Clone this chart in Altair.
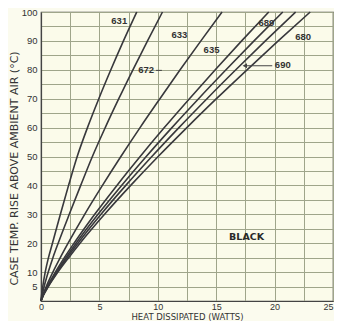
import altair as alt
import pandas as pd

levels = [0, 2, 5, 10, 15, 20, 30, 40, 50, 60, 70, 80, 90, 100]
w631 = [0, 0.05, 0.15, 0.36, 0.64, 0.98, 1.66, 2.36, 3.10, 3.98, 4.95, 5.98, 7.06, 8.2]
w633 = [0, 0.09, 0.27, 0.62, 1.02, 1.47, 2.42, 3.40, 4.40, 5.50, 6.66, 7.87, 9.12, 10.4]
w635 = [0, 0.15, 0.45, 1.02, 1.65, 2.32, 3.74, 5.26, 6.84, 8.48, 10.18, 11.91, 13.69, 15.5]
w672 = [0, 0.18, 0.54, 1.23, 2.00, 2.83, 4.60, 6.50, 8.49, 10.56, 12.71, 14.92, 17.18, 19.5]
w689 = [0, 0.19, 0.57, 1.31, 2.13, 3.00, 4.88, 6.90, 9.01, 11.21, 13.49, 15.84, 18.24, 20.7]
w680 = [0, 0.20, 0.60, 1.38, 2.24, 3.16, 5.14, 7.26, 9.49, 11.81, 14.21, 16.68, 19.21, 21.8]
w690 = [0, 0.21, 0.63, 1.45, 2.37, 3.34, 5.44, 7.68, 10.03, 12.49, 15.02, 17.64, 20.31, 23.05]

series = {"631": w631, "633": w633, "635": w635, "672": w672,
          "689": w689, "680": w680, "690": w690}

# curve labels placed on the plot
label_text = ["631", "633", "672", "635", "689", "680", "690"]
label_x = [6.7, 11.85, 9.0, 14.6, 19.3, 22.45, 20.7]
label_y = [97.0, 92.2, 79.8, 86.8, 96.3, 91.2, 81.6]

note_text = ["BLACK"]
note_x = [17.6]
note_y = [22.0]

x_grid = [i * 2.5 for i in range(11)]
y_grid = [i * 5 for i in range(21)]

rows = []
for name, ws in series.items():
    for i, (w, t) in enumerate(zip(ws, levels)):
        rows.append({"device": name, "watts": w, "rise": t, "ord": i})
df = pd.DataFrame(rows)

labels_df = pd.DataFrame({"t": label_text, "x": label_x, "y": label_y})
note_df = pd.DataFrame({"t": note_text, "x": note_x, "y": note_y})
leaders_df = pd.DataFrame({"x": [17.45, 9.85], "x2": [19.8, 10.35], "y": [81.4, 79.8]})
arrow_df = pd.DataFrame({"x": [17.45], "y": [81.4]})

x_scale = alt.Scale(domain=[0, 25], nice=False, zero=True)
y_scale = alt.Scale(domain=[0, 100], nice=False, zero=True)

x_axis = alt.Axis(values=x_grid, labelExpr="datum.value % 5 == 0 ? datum.label : ''",
                  title="HEAT DISSIPATED (WATTS)", ticks=False, labelPadding=1,
                  labelFont="Liberation Sans", labelFontSize=9, labelColor="#333",
                  labelFlush=False,
                  labelAlign={"condition": {"test": "datum.value == 25", "value": "right"},
                              "value": "center"},
                  titleFont="DejaVu Sans", titleFontSize=8.5, titleFontWeight="normal",
                  titleColor="#333", titleY=15, titleBaseline="middle",
                  grid=True, gridColor="#9fa58a", gridWidth=1,
                  domainColor="#444", domainWidth=1.2)
y_axis = alt.Axis(values=y_grid,
                  labelExpr="(datum.value % 10 == 0 && datum.value > 0) || datum.value == 5 ? datum.label : ''",
                  title="CASE TEMP. RISE ABOVE AMBIENT AIR (°C)", ticks=False, labelPadding=4,
                  labelFont="Liberation Sans", labelFontSize=9.5, labelColor="#333",
                  labelFlush=False,
                  titleFont="DejaVu Sans", titleFontSize=11, titleFontWeight="normal",
                  titleColor="#333", titleX=-27, titleY=156, titleAngle=270,
                  titleAlign="center", titleBaseline="middle",
                  grid=True, gridColor="#9fa58a", gridWidth=1,
                  domainColor="#444", domainWidth=1.2)

X = lambda f: alt.X(f, scale=x_scale, axis=x_axis)
Y = lambda f: alt.Y(f, scale=y_scale, axis=y_axis)

lines = alt.Chart(df).mark_line(color="#38383c", strokeWidth=1.6, interpolate="monotone").encode(
    x=X("watts:Q"), y=Y("rise:Q"), detail="device:N", order="ord:Q")

labels = alt.Chart(labels_df).mark_text(font="Liberation Sans", fontSize=9.5,
                                        fontWeight="bold", color="#333").encode(
    x=X("x:Q"), y=Y("y:Q"), text="t:N")

note = alt.Chart(note_df).mark_text(font="DejaVu Sans", fontSize=9.5,
                                    fontWeight="bold", color="#2a2a2a").encode(
    x=X("x:Q"), y=Y("y:Q"), text="t:N")

leaders = alt.Chart(leaders_df).mark_rule(color="#444", strokeWidth=1).encode(
    x=X("x:Q"), x2="x2:Q", y=Y("y:Q"))

arrow = alt.Chart(arrow_df).mark_point(shape="triangle-left", filled=True, size=25,
                                       color="#444", opacity=1).encode(
    x=X("x:Q"), y=Y("y:Q"))

chart = alt.layer(lines, leaders, arrow, labels, note).properties(
    width=292, height=289,
    autosize=alt.AutoSizeParams(type="none"),
    padding={"left": 33, "top": 4, "right": 1, "bottom": 20},
    background="#fbfbee",
).configure_view(stroke="#444", strokeWidth=1.2, fill="#fbfbea")

chart.save("out.html", embed_options={"renderer": "svg", "actions": False})
